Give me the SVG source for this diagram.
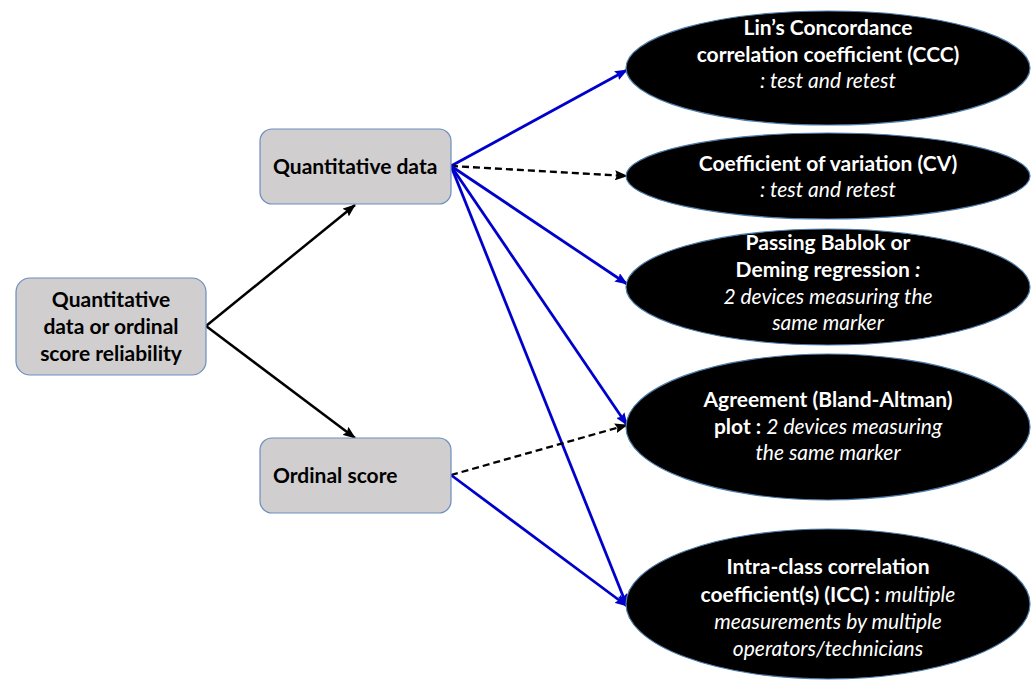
<svg xmlns="http://www.w3.org/2000/svg" width="1033" height="681" viewBox="0 0 1033 681">
<defs>
<style>
.box{fill:#D0CECE;stroke:#6C8EBF;stroke-width:1.2}
.ell{fill:#000;stroke:#4F7DAA;stroke-width:1.2}
.bt{font-family:Lato,"Liberation Sans",sans-serif;font-weight:bold;font-size:21px;fill:#000}
.et{font-family:Lato,"Liberation Sans",sans-serif;font-size:21px;fill:#fff;text-anchor:middle}
.b{font-weight:bold}
.i{font-style:italic}
.blue{stroke:#0000CC;stroke-width:2.8;fill:none;marker-end:url(#ab)}
.blk{stroke:#000;stroke-width:2.5;fill:none;marker-end:url(#ak)}
.dash{stroke:#000;stroke-width:2.3;fill:none;stroke-dasharray:7 4;marker-end:url(#ak)}
</style>
<marker id="ab" markerUnits="userSpaceOnUse" markerWidth="13" markerHeight="10" refX="12" refY="5" orient="auto"><path d="M0,0 L13,5 L0,10 L2,5 Z" fill="#0000CC"/></marker>
<marker id="ak" markerUnits="userSpaceOnUse" markerWidth="13" markerHeight="10" refX="12" refY="5" orient="auto"><path d="M0,0 L13,5 L0,10 L2,5 Z" fill="#000"/></marker>
</defs>
<rect width="1033" height="681" fill="#fff"/>
<g id="connectors">
<line class="blk" x1="206" y1="326" x2="355" y2="205"/>
<line class="blk" x1="206" y1="326" x2="355" y2="438"/>
<line class="blue" x1="451" y1="166" x2="627" y2="70"/>
<line class="dash" x1="451" y1="166" x2="627" y2="176"/>
<line class="blue" x1="451" y1="166" x2="627" y2="284"/>
<line class="blue" x1="451" y1="166" x2="627" y2="425"/>
<line class="blue" x1="451" y1="166" x2="627" y2="606"/>
<line class="dash" x1="451" y1="475" x2="627" y2="425"/>
<line class="blue" x1="451" y1="475" x2="627" y2="606"/>
</g>
<g id="root">
<rect class="box" x="16" y="278" width="190" height="97" rx="14"/>
<text class="bt" text-anchor="middle"><tspan x="111" y="307">Quantitative</tspan><tspan x="111" y="334">data or ordinal</tspan><tspan x="111" y="361">score reliability</tspan></text>
</g>
<g id="quant">
<rect class="box" x="260" y="129" width="191" height="75" rx="12"/>
<text class="bt" x="273" y="174">Quantitative data</text>
</g>
<g id="ordinal">
<rect class="box" x="260" y="438" width="191" height="75" rx="12"/>
<text class="bt" x="273" y="483">Ordinal score</text>
</g>
<g id="ccc">
<ellipse class="ell" cx="828" cy="68" rx="202" ry="57"/>
<text class="et"><tspan class="b" x="828" y="35">Lin’s Concordance</tspan><tspan class="b" x="828" y="62">correlation coefficient (CCC)</tspan><tspan class="i" x="828" y="88">: test and retest</tspan></text>
</g>
<g id="cv">
<ellipse class="ell" cx="828" cy="176" rx="202" ry="43"/>
<text class="et"><tspan class="b" x="828" y="171">Coefficient of variation (CV)</tspan><tspan class="i" x="828" y="197">: test and retest</tspan></text>
</g>
<g id="passing">
<ellipse class="ell" cx="828" cy="287" rx="202" ry="58"/>
<text class="et"><tspan class="b" x="828" y="250">Passing Bablok or</tspan><tspan class="b" x="828" y="277">Deming regression </tspan><tspan class="b i">:</tspan><tspan class="i" x="828" y="304">2 devices measuring the</tspan><tspan class="i" x="828" y="330">same marker</tspan></text>
</g>
<g id="agreement">
<ellipse class="ell" cx="828" cy="427" rx="202" ry="73"/>
<text class="et"><tspan class="b" x="828" y="407">Agreement (Bland-Altman)</tspan><tspan x="828" y="434"><tspan class="b">plot : </tspan><tspan class="i">2 devices measuring</tspan></tspan><tspan class="i" x="828" y="460">the same marker</tspan></text>
</g>
<g id="icc">
<ellipse class="ell" cx="828" cy="604" rx="202" ry="75"/>
<text class="et"><tspan class="b" x="828" y="574">Intra-class correlation</tspan><tspan x="828" y="602"><tspan class="b">coefficient(s) (ICC) : </tspan><tspan class="i">multiple</tspan></tspan><tspan class="i" x="828" y="629">measurements by multiple</tspan><tspan class="i" x="828" y="656">operators/technicians</tspan></text>
</g>
</svg>
